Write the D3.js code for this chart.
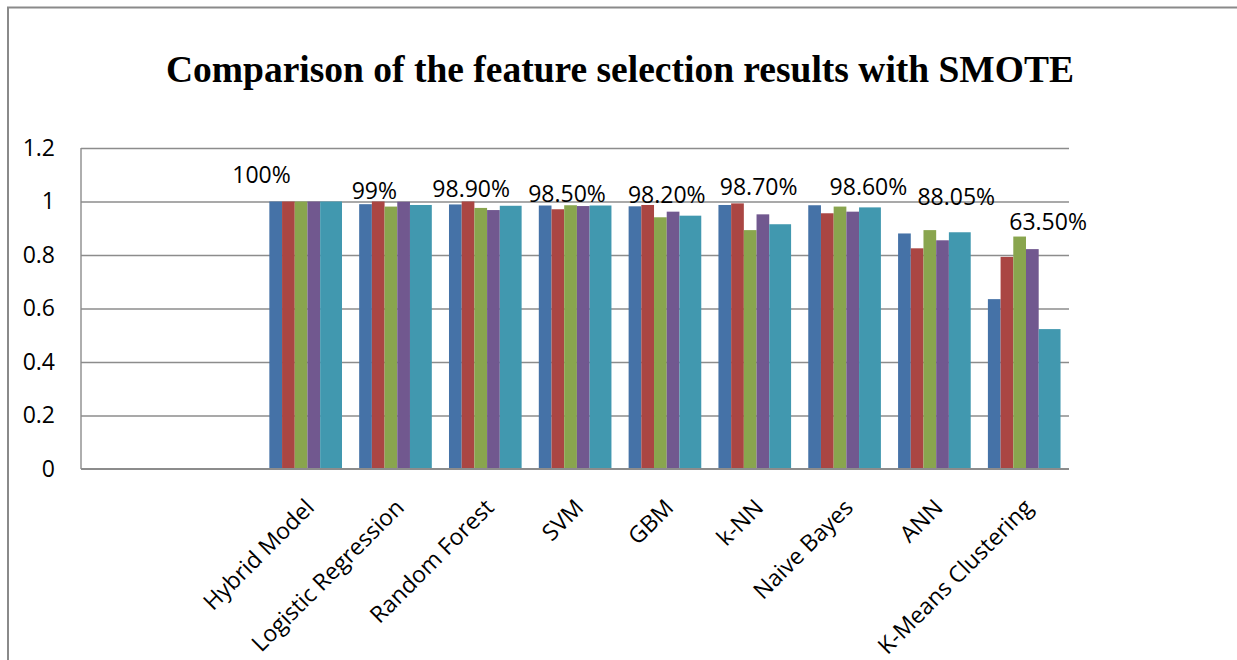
<!DOCTYPE html>
<html>
<head>
<meta charset="utf-8">
<script src="https://cdn.jsdelivr.net/npm/d3@7"></script>
<style>
  body { margin: 0; background: #fff; }
  svg { display: block; }
</style>
</head>
<body>
<svg id="chart" width="1237" height="660"></svg>
<script>
// categories along the x axis (the first two slots are empty in the original chart)
const categories = ["", "", "Hybrid Model", "Logistic Regression", "Random Forest", "SVM",
  "GBM", "k-NN", "Naive Bayes", "ANN", "K-Means Clustering"];

// five unnamed series, one value per model (models start at the 3rd slot)
const series1 = [1.0, 0.99, 0.989, 0.985, 0.982, 0.987, 0.986, 0.8805, 0.635];
const series2 = [1.0, 1.0, 1.0, 0.971, 0.987, 0.993, 0.956, 0.825, 0.793];
const series3 = [1.0, 0.981, 0.976, 0.986, 0.941, 0.893, 0.981, 0.893, 0.869];
const series4 = [1.0, 0.999, 0.968, 0.983, 0.962, 0.952, 0.962, 0.855, 0.822];
const series5 = [1.0, 0.987, 0.984, 0.985, 0.947, 0.915, 0.978, 0.885, 0.523];

// data labels shown above each group (values of series 1)
const valueLabels = ["100%", "99%", "98.90%", "98.50%", "98.20%", "98.70%", "98.60%", "88.05%", "63.50%"];

const yTicks = [0, 0.2, 0.4, 0.6, 0.8, 1, 1.2];

const title = "Comparison of the feature selection results with SMOTE";

const colors = ["#4572A7", "#AA4643", "#89A54E", "#71588F", "#4198AF"];
const allSeries = [series1, series2, series3, series4, series5];
const firstModel = 2; // index in categories of the first model

// hand-placed label offsets (px) from the group centre / bar top, as in the source
const labelNudge = [[-44, -27], [-21, -13], [-14, -15], [-8, -12], [2, -11],
  [4, -18], [24, -18], [22, -37], [24, -77]];

const svg = d3.select("#chart");
const margin = { left: 81, right: 168, top: 148, bottom: 191 };
const W = +svg.attr("width"), H = +svg.attr("height");

// outer frame (only the top and left edges are in view)
svg.append("path")
  .attr("d", `M${W},7.5H8V${H}`)
  .attr("fill", "none")
  .attr("stroke", "#8a8a8a")
  .attr("stroke-width", 2);

svg.append("text")
  .attr("x", 620)
  .attr("y", 82)
  .attr("text-anchor", "middle")
  .style("font-family", "'Liberation Serif', 'Times New Roman', serif")
  .style("font-weight", "bold")
  .style("font-size", "37.5px")
  .text(title);

const x0 = d3.scaleBand()
  .domain(d3.range(categories.length))
  .range([margin.left, W - margin.right])
  .padding(0);

const y = d3.scaleLinear()
  .domain([0, 1.2])
  .range([H - margin.bottom, margin.top]);

// bar slots inside one category
const bw = x0.bandwidth();
const x1 = d3.scaleBand()
  .domain(d3.range(allSeries.length))
  .range([bw * 0.097, bw * 0.097 + bw * 0.1414 * allSeries.length]);

// grid lines
svg.append("g")
  .attr("transform", `translate(${margin.left},0)`)
  .call(d3.axisLeft(y).tickValues(yTicks.slice(1)).tickSize(-(W - margin.right - margin.left)).tickFormat(""))
  .call(g => g.select(".domain").remove())
  .call(g => g.selectAll("line").attr("stroke", "#8c8c8c").attr("stroke-width", 1.4));

// left axis line
svg.append("line")
  .attr("x1", margin.left).attr("x2", margin.left)
  .attr("y1", y(1.2)).attr("y2", y(0))
  .attr("stroke", "#8c8c8c").attr("stroke-width", 1.4);

// tick labels
svg.append("g")
  .attr("transform", `translate(${margin.left - 26},0)`)
  .call(d3.axisLeft(y).tickValues(yTicks).tickSize(0).tickPadding(0)
    .tickFormat(d => String(+d.toFixed(1))))
  .call(g => g.select(".domain").remove())
  .call(g => g.selectAll("text")
    .style("font-family", "'Open Sans', sans-serif")
    .style("font-size", "23px")
    .attr("fill", "#000"));

// bars
const groups = svg.append("g")
  .selectAll("g")
  .data(allSeries)
  .join("g")
  .attr("fill", (d, i) => colors[i]);

groups.each(function (vals, s) {
  d3.select(this).selectAll("rect")
    .data(vals)
    .join("rect")
    .attr("x", (d, i) => x0(i + firstModel) + x1(s))
    .attr("width", s === allSeries.length - 1 ? x1.bandwidth() * 1.72 : x1.bandwidth())
    .attr("y", d => y(d))
    .attr("height", d => y(0) - y(d));
});

// bottom axis line
svg.append("line")
  .attr("x1", margin.left).attr("x2", W - margin.right)
  .attr("y1", y(0)).attr("y2", y(0))
  .attr("stroke", "#8c8c8c").attr("stroke-width", 2);

// value labels
svg.append("g")
  .selectAll("text")
  .data(valueLabels)
  .join("text")
  .attr("x", (d, i) => x0(i + firstModel) + bw / 2 + labelNudge[i][0])
  .attr("y", (d, i) => y(series1[i]) + labelNudge[i][1])
  .attr("dy", "0.35em")
  .attr("text-anchor", "middle")
  .style("font-family", "'Open Sans', sans-serif")
  .style("font-size", "23px")
  .text(d => d);

// rotated category labels
svg.append("g")
  .selectAll("text")
  .data(categories)
  .join("text")
  .attr("transform", (d, i) => `translate(${x0(i) + bw / 2 + 10},${y(0) + 40}) rotate(-45)`)
  .attr("text-anchor", "end")
  .style("font-family", "'Open Sans', sans-serif")
  .style("font-size", "23px")
  .text(d => d);
</script>
</body>
</html>
